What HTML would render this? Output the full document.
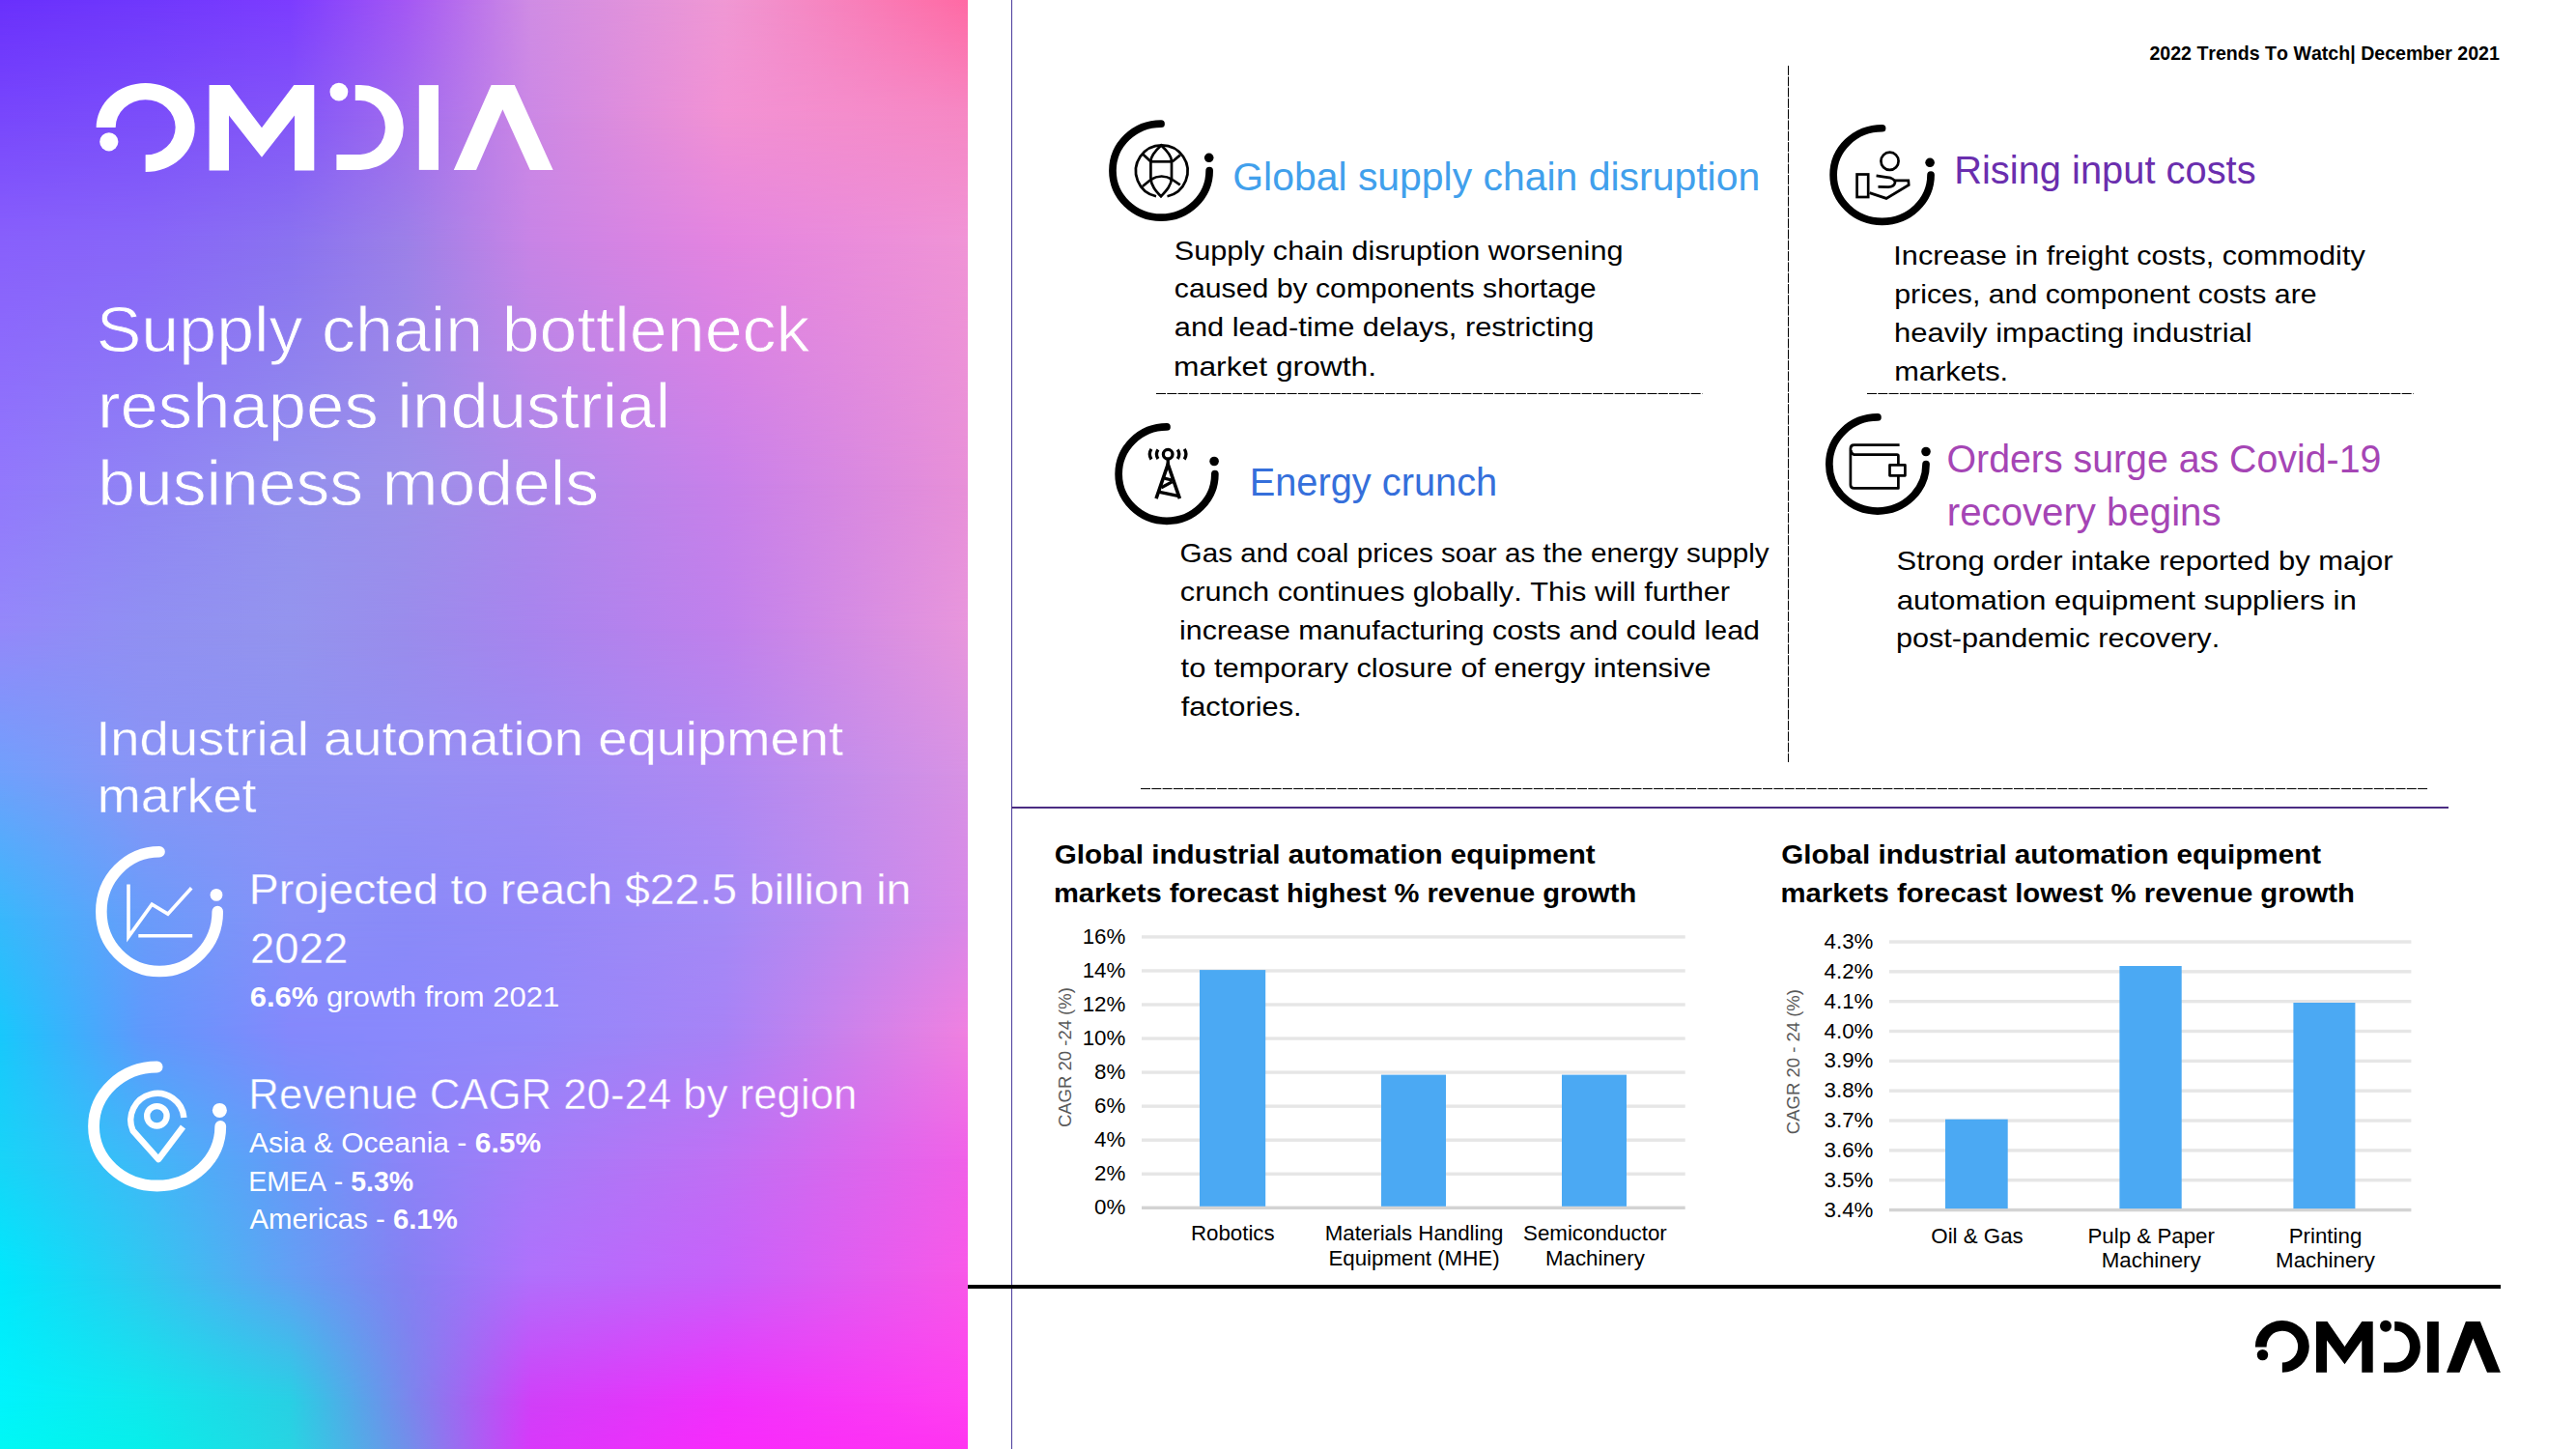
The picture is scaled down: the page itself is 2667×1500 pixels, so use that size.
<!DOCTYPE html>
<html><head><meta charset="utf-8"><title>Omdia 2022 Trends</title><style>
html,body{margin:0;padding:0;background:#fff;}
body{width:2667px;height:1500px;overflow:hidden;position:relative;font-family:"Liberation Sans", sans-serif;}
#bg{position:absolute;left:0;top:0;width:1002px;height:1500px;overflow:hidden;}
.band{position:absolute;left:0;width:1002px;}
.ov{position:absolute;left:0;top:0;right:0;bottom:0;-webkit-mask-image:linear-gradient(to bottom,transparent,#000);mask-image:linear-gradient(to bottom,transparent,#000);}
svg{position:absolute;left:0;top:0;}
svg text{font-family:"Liberation Sans", sans-serif;font-kerning:none;}
</style></head>
<body>
<div id="bg">
<div class="band" style="top:0px;height:120px;background:linear-gradient(to right, #6a30fc 0.000%, #7038fc 14.970%, #7c3cff 29.940%, #a458f4 41.916%, #d08ce4 54.890%, #f098d4 74.850%, #ff6aa4 100.000%)"><div class="ov" style="background:linear-gradient(to right, #7847fc 0.000%, #7b4efa 14.970%, #8356f8 29.940%, #a06bee 41.916%, #cc88e5 54.890%, #f292d4 74.850%, #f688c4 100.000%)"></div></div>
<div class="band" style="top:120px;height:130px;background:linear-gradient(to right, #7847fc 0.000%, #7b4efa 14.970%, #8356f8 29.940%, #a06bee 41.916%, #cc88e5 54.890%, #f292d4 74.850%, #f688c4 100.000%)"><div class="ov" style="background:linear-gradient(to right, #8860fc 0.000%, #8866f8 14.970%, #8a72f0 29.940%, #9c80e8 41.916%, #c884e6 54.890%, #e484e0 74.850%, #f094d6 100.000%)"></div></div>
<div class="band" style="top:250px;height:250px;background:linear-gradient(to right, #8860fc 0.000%, #8866f8 14.970%, #8a72f0 29.940%, #9c80e8 41.916%, #c884e6 54.890%, #e484e0 74.850%, #f094d6 100.000%)"><div class="ov" style="background:linear-gradient(to right, #9278fc 0.000%, #9084f4 14.970%, #9490ee 29.940%, #9c90ea 41.916%, #ac88ea 54.890%, #c880ea 74.850%, #e890d8 100.000%)"></div></div>
<div class="band" style="top:500px;height:150px;background:linear-gradient(to right, #9278fc 0.000%, #9084f4 14.970%, #9490ee 29.940%, #9c90ea 41.916%, #ac88ea 54.890%, #c880ea 74.850%, #e890d8 100.000%)"><div class="ov" style="background:linear-gradient(to right, #9488fa 0.000%, #9090f2 14.970%, #9494ee 29.940%, #9a8cec 41.916%, #a884ee 54.890%, #c080ec 74.850%, #e896dc 100.000%)"></div></div>
<div class="band" style="top:650px;height:150px;background:linear-gradient(to right, #9488fa 0.000%, #9090f2 14.970%, #9494ee 29.940%, #9a8cec 41.916%, #a884ee 54.890%, #c080ec 74.850%, #e896dc 100.000%)"><div class="ov" style="background:linear-gradient(to right, #70a0fc 0.000%, #8a94f6 14.970%, #8e92f4 29.940%, #9490f4 41.916%, #9c8cf4 54.890%, #b088f2 74.850%, #d892e4 100.000%)"></div></div>
<div class="band" style="top:800px;height:150px;background:linear-gradient(to right, #70a0fc 0.000%, #8a94f6 14.970%, #8e92f4 29.940%, #9490f4 41.916%, #9c8cf4 54.890%, #b088f2 74.850%, #d892e4 100.000%)"><div class="ov" style="background:linear-gradient(to right, #38b8fc 0.000%, #6a9cfa 14.970%, #8890f8 29.940%, #8a8af8 41.916%, #9488f8 54.890%, #a48af6 74.850%, #d888e8 100.000%)"></div></div>
<div class="band" style="top:950px;height:120px;background:linear-gradient(to right, #38b8fc 0.000%, #6a9cfa 14.970%, #8890f8 29.940%, #8a8af8 41.916%, #9488f8 54.890%, #a48af6 74.850%, #d888e8 100.000%)"><div class="ov" style="background:linear-gradient(to right, #18c8fc 0.000%, #6098fc 14.970%, #8488fc 29.940%, #8a88fc 41.916%, #9288fa 54.890%, #a882f6 74.850%, #f080e0 100.000%)"></div></div>
<div class="band" style="top:1070px;height:130px;background:linear-gradient(to right, #18c8fc 0.000%, #6098fc 14.970%, #8488fc 29.940%, #8a88fc 41.916%, #9288fa 54.890%, #a882f6 74.850%, #f080e0 100.000%)"><div class="ov" style="background:linear-gradient(to right, #18d4f8 0.000%, #40b8f8 14.970%, #6898f8 29.940%, #8c84f8 41.916%, #a47cf8 54.890%, #c070f4 74.850%, #f060e8 100.000%)"></div></div>
<div class="band" style="top:1200px;height:120px;background:linear-gradient(to right, #18d4f8 0.000%, #40b8f8 14.970%, #6898f8 29.940%, #8c84f8 41.916%, #a47cf8 54.890%, #c070f4 74.850%, #f060e8 100.000%)"><div class="ov" style="background:linear-gradient(to right, #00e8fc 0.000%, #30c8f0 14.970%, #62a0f4 29.940%, #8480f2 41.916%, #b070fc 54.890%, #c860fa 74.850%, #f858e8 100.000%)"></div></div>
<div class="band" style="top:1320px;height:130px;background:linear-gradient(to right, #00e8fc 0.000%, #30c8f0 14.970%, #62a0f4 29.940%, #8480f2 41.916%, #b070fc 54.890%, #c860fa 74.850%, #f858e8 100.000%)"><div class="ov" style="background:linear-gradient(to right, #00f4fc 0.000%, #10e8ec 14.970%, #28d0e4 29.940%, #7888ec 41.916%, #d040f8 54.890%, #f030fc 74.850%, #ff40f0 100.000%)"></div></div>
<div class="band" style="top:1450px;height:50px;background:linear-gradient(to right, #00f4fc 0.000%, #10e8ec 14.970%, #28d0e4 29.940%, #7888ec 41.916%, #d040f8 54.890%, #f030fc 74.850%, #ff40f0 100.000%)"><div class="ov" style="background:linear-gradient(to right, #00f8f4 0.000%, #08eeea 14.970%, #28d4e2 29.940%, #7090ea 41.916%, #d838fa 54.890%, #f82afc 74.850%, #ff34f0 100.000%)"></div></div>
</div>
<svg width="2667" height="1500" viewBox="0 0 2667 1500">
<defs><linearGradient id="g0" gradientUnits="userSpaceOnUse" x1="97.9" y1="0" x2="843.6" y2="0"><stop offset="0.0000" stop-color="#8b6ef8"/><stop offset="0.0556" stop-color="#8b71f7"/><stop offset="0.1111" stop-color="#8c74f5"/><stop offset="0.1667" stop-color="#8c77f3"/><stop offset="0.2222" stop-color="#8d7af1"/><stop offset="0.2778" stop-color="#8e7eef"/><stop offset="0.3333" stop-color="#9381ed"/><stop offset="0.3889" stop-color="#9884ea"/><stop offset="0.4444" stop-color="#9e86e9"/><stop offset="0.5000" stop-color="#a986e8"/><stop offset="0.5556" stop-color="#b486e8"/><stop offset="0.6111" stop-color="#be85e7"/><stop offset="0.6667" stop-color="#c485e7"/><stop offset="0.7222" stop-color="#ca84e6"/><stop offset="0.7778" stop-color="#cf84e5"/><stop offset="0.8333" stop-color="#d583e4"/><stop offset="0.8889" stop-color="#da83e3"/><stop offset="0.9444" stop-color="#de86e1"/><stop offset="1.0000" stop-color="#e188df"/></linearGradient><linearGradient id="g1" gradientUnits="userSpaceOnUse" x1="100.7" y1="0" x2="694.5" y2="0"><stop offset="0.0000" stop-color="#8e77f7"/><stop offset="0.0714" stop-color="#8e7af6"/><stop offset="0.1429" stop-color="#8e7ef4"/><stop offset="0.2143" stop-color="#8f81f2"/><stop offset="0.2857" stop-color="#9084f0"/><stop offset="0.3571" stop-color="#9287ee"/><stop offset="0.4286" stop-color="#9689ec"/><stop offset="0.5000" stop-color="#9a8aea"/><stop offset="0.5714" stop-color="#a08ae9"/><stop offset="0.6429" stop-color="#a889e9"/><stop offset="0.7143" stop-color="#b088e9"/><stop offset="0.7857" stop-color="#b786e9"/><stop offset="0.8571" stop-color="#bd85e8"/><stop offset="0.9286" stop-color="#c384e8"/><stop offset="1.0000" stop-color="#c983e7"/></linearGradient><linearGradient id="g2" gradientUnits="userSpaceOnUse" x1="100.7" y1="0" x2="622.5" y2="0"><stop offset="0.0000" stop-color="#9180f7"/><stop offset="0.0769" stop-color="#9083f4"/><stop offset="0.1538" stop-color="#9187f3"/><stop offset="0.2308" stop-color="#928af1"/><stop offset="0.3077" stop-color="#938df0"/><stop offset="0.3846" stop-color="#9490ee"/><stop offset="0.4615" stop-color="#9790ed"/><stop offset="0.5385" stop-color="#9990eb"/><stop offset="0.6154" stop-color="#9c90ea"/><stop offset="0.6923" stop-color="#a18dea"/><stop offset="0.7692" stop-color="#a68bea"/><stop offset="0.8462" stop-color="#ab88ea"/><stop offset="0.9231" stop-color="#b087ea"/><stop offset="1.0000" stop-color="#b685ea"/></linearGradient><linearGradient id="g3" gradientUnits="userSpaceOnUse" x1="99.3" y1="0" x2="877.7" y2="0"><stop offset="0.0000" stop-color="#8596f7"/><stop offset="0.0526" stop-color="#8a94f6"/><stop offset="0.1053" stop-color="#8c93f5"/><stop offset="0.1579" stop-color="#8d93f4"/><stop offset="0.2105" stop-color="#8e93f3"/><stop offset="0.2632" stop-color="#9092f3"/><stop offset="0.3158" stop-color="#9291f3"/><stop offset="0.3684" stop-color="#9490f2"/><stop offset="0.4211" stop-color="#968ff2"/><stop offset="0.4737" stop-color="#998df2"/><stop offset="0.5263" stop-color="#9c8cf3"/><stop offset="0.5789" stop-color="#9f8af3"/><stop offset="0.6316" stop-color="#a389f2"/><stop offset="0.6842" stop-color="#a789f2"/><stop offset="0.7368" stop-color="#ab88f1"/><stop offset="0.7895" stop-color="#b087f1"/><stop offset="0.8421" stop-color="#b486f0"/><stop offset="0.8947" stop-color="#bb89ee"/><stop offset="0.9474" stop-color="#c18bec"/><stop offset="1.0000" stop-color="#c88de9"/></linearGradient><linearGradient id="g4" gradientUnits="userSpaceOnUse" x1="99.3" y1="0" x2="270.1" y2="0"><stop offset="0.0000" stop-color="#7a9af8"/><stop offset="0.2500" stop-color="#8396f7"/><stop offset="0.5000" stop-color="#8695f6"/><stop offset="0.7500" stop-color="#8993f6"/><stop offset="1.0000" stop-color="#8b92f5"/></linearGradient><linearGradient id="g5" gradientUnits="userSpaceOnUse" x1="256.6" y1="0" x2="945.4" y2="0"><stop offset="0.0000" stop-color="#8293f8"/><stop offset="0.0588" stop-color="#8991f7"/><stop offset="0.1176" stop-color="#8a8ff7"/><stop offset="0.1765" stop-color="#8b8df7"/><stop offset="0.2353" stop-color="#8c8bf7"/><stop offset="0.2941" stop-color="#8f8af7"/><stop offset="0.3529" stop-color="#928af7"/><stop offset="0.4118" stop-color="#9589f7"/><stop offset="0.4706" stop-color="#9889f7"/><stop offset="0.5294" stop-color="#9b89f7"/><stop offset="0.5882" stop-color="#9f89f6"/><stop offset="0.6471" stop-color="#a289f6"/><stop offset="0.7059" stop-color="#a68af5"/><stop offset="0.7647" stop-color="#ad8af3"/><stop offset="0.8235" stop-color="#b58af1"/><stop offset="0.8824" stop-color="#bd8aef"/><stop offset="0.9412" stop-color="#c58aed"/><stop offset="1.0000" stop-color="#cd8aea"/></linearGradient><linearGradient id="g6" gradientUnits="userSpaceOnUse" x1="256.4" y1="0" x2="362.9" y2="0"><stop offset="0.0000" stop-color="#7e92fa"/><stop offset="0.5000" stop-color="#878df9"/><stop offset="1.0000" stop-color="#898bf9"/></linearGradient><linearGradient id="g7" gradientUnits="userSpaceOnUse" x1="255.9" y1="0" x2="889.5" y2="0"><stop offset="0.0000" stop-color="#6b97fa"/><stop offset="0.0667" stop-color="#7690fa"/><stop offset="0.1333" stop-color="#7d8dfa"/><stop offset="0.2000" stop-color="#8489fa"/><stop offset="0.2667" stop-color="#8c86fa"/><stop offset="0.3333" stop-color="#9185fa"/><stop offset="0.4000" stop-color="#9683f9"/><stop offset="0.4667" stop-color="#9b82f9"/><stop offset="0.5333" stop-color="#a080f8"/><stop offset="0.6000" stop-color="#a67ef7"/><stop offset="0.6667" stop-color="#ab7cf6"/><stop offset="0.7333" stop-color="#b07af6"/><stop offset="0.8000" stop-color="#b779f4"/><stop offset="0.8667" stop-color="#c177f1"/><stop offset="0.9333" stop-color="#cb76ee"/><stop offset="1.0000" stop-color="#d574ec"/></linearGradient></defs>
<g fill="#fff">
<path d="M 99.65 132 A 51 46 0 1 1 150.65 178 L 150.65 160.35 A 31 28.6 0 1 0 119.65 132 Z"/>
<circle cx="112.8" cy="146.8" r="9.6"/>
<path d="M216.6 176.4 L216.6 88.1 L237.8 88.1 L271 132.3 L304.3 88.1 L325.3 88.1 L325.3 176.4 L305 176.4 L305 119.6 L271 162.8 L237 119.6 L237 176.4 Z"/>
<circle cx="350.9" cy="95.1" r="9.4"/>
<path d="M 367.8 88.1 L 373 88.1 A 44.8 43.9 0 0 1 373 175.9 L 348.4 175.9 L 348.4 159.9 L 373 159.9 A 25.9 27.9 0 0 0 373 104.1 L 367.8 104.1 Z"/>
<rect x="433.8" y="88.1" width="20.2" height="87.8"/>
<path d="M469.8 175.9 L508.6 88.1 L532.8 88.1 L572.6 175.9 L548.8 175.9 L520.4 113.3 L493 175.9 Z"/>
</g>
<text x="99.72" y="363.60" font-size="67.20" fill="#ffffff" textLength="738.77" lengthAdjust="spacingAndGlyphs" stroke="url(#g0)" stroke-width="0.90">Supply chain bottleneck</text>
<text x="101.01" y="442.50" font-size="67.20" fill="#ffffff" textLength="593.22" lengthAdjust="spacingAndGlyphs" stroke="url(#g1)" stroke-width="0.90">reshapes industrial</text>
<text x="101.21" y="522.80" font-size="67.20" fill="#ffffff" textLength="518.81" lengthAdjust="spacingAndGlyphs" stroke="url(#g2)" stroke-width="0.90">business models</text>
<text x="99.28" y="781.80" font-size="49.90" fill="#ffffff" textLength="773.82" lengthAdjust="spacingAndGlyphs" stroke="url(#g3)" stroke-width="0.40">Industrial automation equipment</text>
<text x="100.72" y="841.40" font-size="49.90" fill="#ffffff" textLength="164.78" lengthAdjust="spacingAndGlyphs" stroke="url(#g4)" stroke-width="0.40">market</text>
<text x="257.80" y="936.40" font-size="44.00" fill="#ffffff" textLength="685.61" lengthAdjust="spacingAndGlyphs" stroke="url(#g5)" stroke-width="0.30">Projected to reach $22.5 billion in</text>
<text x="259.12" y="997.00" font-size="44.00" fill="#ffffff" textLength="101.07" lengthAdjust="spacingAndGlyphs" stroke="url(#g6)" stroke-width="0.30">2022</text>
<text x="258.66" y="1041.60" font-size="29.00" fill="#ffffff" textLength="320.65" lengthAdjust="spacingAndGlyphs"><tspan font-weight="bold">6.6%</tspan> growth from 2021</text>
<text x="257.31" y="1147.80" font-size="44.50" fill="#ffffff" textLength="630.03" lengthAdjust="spacingAndGlyphs" stroke="url(#g7)" stroke-width="0.50">Revenue CAGR 20-24 by region</text>
<text x="258.04" y="1192.60" font-size="28.70" fill="#ffffff" textLength="302.13" lengthAdjust="spacingAndGlyphs">Asia &amp; Oceania -  <tspan font-weight="bold">6.5%</tspan></text>
<text x="257.16" y="1232.50" font-size="28.70" fill="#ffffff" textLength="170.99" lengthAdjust="spacingAndGlyphs">EMEA - <tspan font-weight="bold">5.3%</tspan></text>
<text x="258.54" y="1272.00" font-size="28.70" fill="#ffffff" textLength="215.23" lengthAdjust="spacingAndGlyphs">Americas - <tspan font-weight="bold">6.1%</tspan></text>
<path d="M 165.05 881.75 A 60.20 61.90 0 1 0 225.25 943.65" fill="none" stroke="#fff" stroke-width="11.60" stroke-linecap="round"/><circle cx="224.00" cy="926.40" r="6.40" fill="#fff"/>
<g fill="none" stroke="#fff" stroke-width="3.6" stroke-linejoin="miter"><polyline points="133,915.5 133,969.9 157.3,936.2 173.8,946.1 198.2,919.2"/><line x1="143.3" y1="968.8" x2="199.2" y2="968.8"/></g>
<path d="M 162.65 1104.50 A 65.60 61.50 0 1 0 228.25 1166.00" fill="none" stroke="#fff" stroke-width="11.80" stroke-linecap="round"/><circle cx="227.40" cy="1149.40" r="7.50" fill="#fff"/>
<g fill="none" stroke="#fff" stroke-width="6.4" stroke-linejoin="round"><path d="M 190.4 1157 A 27.6 27.6 0 1 0 137.6 1170.5 L 164 1200.2 L 189.5 1166.5"/><circle cx="162.4" cy="1155.3" r="10.2"/></g>
<rect x="1047" y="0" width="1" height="1500" fill="#4b3c9c"/>
<rect x="1047" y="835" width="1488" height="2" fill="#4b2d83"/>
<rect x="1002" y="1330" width="1587" height="4" fill="#000"/>
<line x1="1181" y1="816.5" x2="2514.3" y2="816.5" stroke="#000" stroke-width="1" stroke-dasharray="10 1.3" fill="none"/>
<line x1="1197" y1="407.5" x2="1762.4" y2="407.5" stroke="#000" stroke-width="1" stroke-dasharray="10 1.3" fill="none"/>
<line x1="1933" y1="407.5" x2="2498.6" y2="407.5" stroke="#000" stroke-width="1" stroke-dasharray="10 1.3" fill="none"/>
<line x1="1851.5" y1="68" x2="1851.5" y2="789" stroke="#000" stroke-width="1" stroke-dasharray="10 1.3" fill="none"/>
<text x="2225.42" y="61.80" font-size="19.80" fill="#000000" font-weight="bold" textLength="362.42" lengthAdjust="spacingAndGlyphs">2022 Trends To Watch| December 2021</text>
<text x="1276.24" y="197.20" font-size="41.30" fill="#41a0ec" textLength="545.92" lengthAdjust="spacingAndGlyphs">Global supply chain disruption</text>
<text x="2023.23" y="190.40" font-size="41.30" fill="#6a2eae" textLength="312.41" lengthAdjust="spacingAndGlyphs">Rising input costs</text>
<text x="1293.64" y="512.80" font-size="41.30" fill="#356fdb" textLength="256.55" lengthAdjust="spacingAndGlyphs">Energy crunch</text>
<text x="2015.54" y="488.90" font-size="41.30" fill="#a545b5" textLength="449.82" lengthAdjust="spacingAndGlyphs">Orders surge as Covid-19</text>
<text x="2015.83" y="543.50" font-size="41.30" fill="#a545b5" textLength="283.72" lengthAdjust="spacingAndGlyphs">recovery begins</text>
<text x="1215.71" y="268.70" font-size="28.50" fill="#000000" textLength="464.76" lengthAdjust="spacingAndGlyphs">Supply chain disruption worsening</text>
<text x="1215.82" y="308.30" font-size="28.50" fill="#000000" textLength="436.83" lengthAdjust="spacingAndGlyphs">caused by components shortage</text>
<text x="1215.79" y="347.90" font-size="28.50" fill="#000000" textLength="434.59" lengthAdjust="spacingAndGlyphs">and lead-time delays, restricting</text>
<text x="1214.99" y="388.60" font-size="28.50" fill="#000000" textLength="210.11" lengthAdjust="spacingAndGlyphs">market growth.</text>
<text x="1960.37" y="274.30" font-size="28.50" fill="#000000" textLength="488.39" lengthAdjust="spacingAndGlyphs">Increase in freight costs, commodity</text>
<text x="1961.25" y="314.10" font-size="28.50" fill="#000000" textLength="437.29" lengthAdjust="spacingAndGlyphs">prices, and component costs are</text>
<text x="1961.05" y="354.00" font-size="28.50" fill="#000000" textLength="370.63" lengthAdjust="spacingAndGlyphs">heavily impacting industrial</text>
<text x="1961.16" y="394.40" font-size="28.50" fill="#000000" textLength="117.95" lengthAdjust="spacingAndGlyphs">markets.</text>
<text x="1221.61" y="582.00" font-size="28.50" fill="#000000" textLength="610.05" lengthAdjust="spacingAndGlyphs">Gas and coal prices soar as the energy supply</text>
<text x="1221.79" y="621.70" font-size="28.50" fill="#000000" textLength="569.32" lengthAdjust="spacingAndGlyphs">crunch continues globally. This will further</text>
<text x="1221.07" y="661.50" font-size="28.50" fill="#000000" textLength="600.89" lengthAdjust="spacingAndGlyphs">increase manufacturing costs and could lead</text>
<text x="1222.63" y="701.20" font-size="28.50" fill="#000000" textLength="548.84" lengthAdjust="spacingAndGlyphs">to temporary closure of energy intensive</text>
<text x="1222.66" y="740.90" font-size="28.50" fill="#000000" textLength="124.95" lengthAdjust="spacingAndGlyphs">factories.</text>
<text x="1963.60" y="590.00" font-size="28.50" fill="#000000" textLength="513.92" lengthAdjust="spacingAndGlyphs">Strong order intake reported by major</text>
<text x="1963.67" y="630.70" font-size="28.50" fill="#000000" textLength="476.16" lengthAdjust="spacingAndGlyphs">automation equipment suppliers in</text>
<text x="1963.03" y="669.80" font-size="28.50" fill="#000000" textLength="335.17" lengthAdjust="spacingAndGlyphs">post-pandemic recovery.</text>
<text x="1091.68" y="894.00" font-size="27.50" fill="#000000" font-weight="bold" textLength="560.08" lengthAdjust="spacingAndGlyphs">Global industrial automation equipment</text>
<text x="1090.98" y="934.00" font-size="27.50" fill="#000000" font-weight="bold" textLength="603.22" lengthAdjust="spacingAndGlyphs">markets forecast highest % revenue growth</text>
<text x="1844.19" y="894.00" font-size="27.50" fill="#000000" font-weight="bold" textLength="558.87" lengthAdjust="spacingAndGlyphs">Global industrial automation equipment</text>
<text x="1843.47" y="934.00" font-size="27.50" fill="#000000" font-weight="bold" textLength="594.55" lengthAdjust="spacingAndGlyphs">markets forecast lowest % revenue growth</text>
<path d="M 1202.05 128.15 A 50.10 48.50 0 1 0 1252.15 176.65" fill="none" stroke="#000" stroke-width="7.70" stroke-linecap="round"/><circle cx="1251.70" cy="163.30" r="4.80" fill="#000"/>
<g fill="none" stroke="#000" stroke-width="2.7"><path d="M 1197 203.3 A 26.8 26.8 0 1 1 1208.5 203.3"/><path d="M 1202.2 150.4 C 1196 156 1191.4 161 1191.4 167 L 1191.4 184 C 1191.4 192 1197 198 1202 203.3 C 1207 198 1213 192 1213 184 L 1213 167 C 1213 161 1208.4 156 1202.2 150.4 Z"/><line x1="1191.2" y1="167.3" x2="1214" y2="167.3"/><path d="M 1191.2 186 Q 1202.6 179 1214 186"/><line x1="1183.4" y1="159.8" x2="1191.4" y2="167.3"/><line x1="1221.8" y1="160.6" x2="1213.8" y2="167.3"/><line x1="1182.8" y1="193" x2="1191.4" y2="186"/><line x1="1221.8" y1="191.4" x2="1213.8" y2="186"/></g>
<path d="M 1948.60 132.75 A 50.45 48.30 0 1 0 1999.05 181.05" fill="none" stroke="#000" stroke-width="7.70" stroke-linecap="round"/><circle cx="1998.10" cy="168.30" r="4.80" fill="#000"/>
<g fill="none" stroke="#000" stroke-width="2.7" stroke-linejoin="miter"><circle cx="1956.5" cy="166.8" r="9.1"/><rect x="1922.6" y="180.5" width="11.6" height="23.5"/><path d="M 1935.6 199.6 L 1953 205.4 L 1976.2 191.5 L 1975.8 186.9 L 1961.9 186.9"/><path d="M 1942.6 181.8 Q 1951 183 1957.5 184.2 Q 1962 186 1962 189 Q 1961 193.5 1955 193.6 L 1944.5 193.4"/></g>
<path d="M 1208.00 441.95 A 49.85 48.70 0 1 0 1257.85 490.65" fill="none" stroke="#000" stroke-width="7.70" stroke-linecap="round"/><circle cx="1257.10" cy="477.50" r="4.80" fill="#000"/>
<g fill="none" stroke="#000" stroke-width="3.3" stroke-linejoin="miter"><circle cx="1209.2" cy="470.2" r="4.8"/><line x1="1209.2" y1="475" x2="1209.2" y2="481"/><polyline points="1197,516.2 1209.2,480.6 1221.4,516.2" stroke-width="3.6"/><line x1="1205.6" y1="495.2" x2="1213.2" y2="497.0"/><line x1="1213.8" y1="498.6" x2="1202.4" y2="504.8"/><line x1="1200.4" y1="509.3" x2="1219.6" y2="513.3"/><path d="M 1192 464.8 Q 1188.5 470 1192 475.5"/><path d="M 1199 465.5 Q 1195.8 470 1199 475"/><path d="M 1219.2 465.5 Q 1222.4 470 1219.2 475"/><path d="M 1226.2 464.8 Q 1229.7 470 1226.2 475.5"/></g>
<path d="M 1943.95 431.95 A 50.10 48.55 0 1 0 1994.05 480.50" fill="none" stroke="#000" stroke-width="7.70" stroke-linecap="round"/><circle cx="1994.00" cy="467.50" r="4.80" fill="#000"/>
<g fill="none" stroke="#000" stroke-width="2.7" stroke-linejoin="round"><path d="M 1966.6 460.6 L 1919.5 460.6 Q 1915.9 460.6 1915.9 464.5 L 1915.9 502 Q 1915.9 505.4 1919.5 505.4 L 1965.4 505.4 L 1965.4 492.3"/><path d="M 1965.4 481.4 L 1965.4 472 Q 1965.4 470.6 1964 470.6 L 1919.5 470.6 Q 1916.5 470 1916.2 466"/><rect x="1956.5" y="481.4" width="15.9" height="10.9"/></g>
<rect x="1182" y="968.20" width="562.7" height="3.4" fill="#e6e6e6"/>
<text x="1165.3" y="976.90" font-size="22.3" text-anchor="end" fill="#000">16%</text>
<rect x="1182" y="1003.25" width="562.7" height="3.4" fill="#e6e6e6"/>
<text x="1165.3" y="1011.95" font-size="22.3" text-anchor="end" fill="#000">14%</text>
<rect x="1182" y="1038.30" width="562.7" height="3.4" fill="#e6e6e6"/>
<text x="1165.3" y="1047.00" font-size="22.3" text-anchor="end" fill="#000">12%</text>
<rect x="1182" y="1073.35" width="562.7" height="3.4" fill="#e6e6e6"/>
<text x="1165.3" y="1082.05" font-size="22.3" text-anchor="end" fill="#000">10%</text>
<rect x="1182" y="1108.40" width="562.7" height="3.4" fill="#e6e6e6"/>
<text x="1165.3" y="1117.10" font-size="22.3" text-anchor="end" fill="#000">8%</text>
<rect x="1182" y="1143.45" width="562.7" height="3.4" fill="#e6e6e6"/>
<text x="1165.3" y="1152.15" font-size="22.3" text-anchor="end" fill="#000">6%</text>
<rect x="1182" y="1178.50" width="562.7" height="3.4" fill="#e6e6e6"/>
<text x="1165.3" y="1187.20" font-size="22.3" text-anchor="end" fill="#000">4%</text>
<rect x="1182" y="1213.55" width="562.7" height="3.4" fill="#e6e6e6"/>
<text x="1165.3" y="1222.25" font-size="22.3" text-anchor="end" fill="#000">2%</text>
<rect x="1182" y="1248.60" width="562.7" height="3.4" fill="#d3d3d3"/>
<text x="1165.3" y="1257.30" font-size="22.3" text-anchor="end" fill="#000">0%</text>
<rect x="1242.0" y="1004.1" width="68.2" height="244.7" fill="#4ba9f3"/>
<rect x="1430.0" y="1112.6" width="67.0" height="136.2" fill="#4ba9f3"/>
<rect x="1617.0" y="1112.6" width="67.0" height="136.2" fill="#4ba9f3"/>
<text x="1276.3" y="1283.8" font-size="22.3" text-anchor="middle" fill="#000">Robotics</text>
<text x="1464.0" y="1283.8" font-size="22.3" text-anchor="middle" fill="#000">Materials Handling</text>
<text x="1464.0" y="1309.7" font-size="22.3" text-anchor="middle" fill="#000">Equipment (MHE)</text>
<text x="1651.4" y="1283.8" font-size="22.3" text-anchor="middle" fill="#000">Semiconductor</text>
<text x="1651.4" y="1309.7" font-size="22.3" text-anchor="middle" fill="#000">Machinery</text>
<text transform="translate(1108.62 1094.6) rotate(-90)" font-size="18.5" text-anchor="middle" fill="#595959">CAGR 20 -24 (%)</text>
<rect x="1955.9" y="973.30" width="540.5" height="3.4" fill="#e6e6e6"/>
<text x="1939.4" y="982.00" font-size="22.3" text-anchor="end" fill="#000">4.3%</text>
<rect x="1955.9" y="1004.14" width="540.5" height="3.4" fill="#e6e6e6"/>
<text x="1939.4" y="1012.84" font-size="22.3" text-anchor="end" fill="#000">4.2%</text>
<rect x="1955.9" y="1034.98" width="540.5" height="3.4" fill="#e6e6e6"/>
<text x="1939.4" y="1043.68" font-size="22.3" text-anchor="end" fill="#000">4.1%</text>
<rect x="1955.9" y="1065.82" width="540.5" height="3.4" fill="#e6e6e6"/>
<text x="1939.4" y="1074.52" font-size="22.3" text-anchor="end" fill="#000">4.0%</text>
<rect x="1955.9" y="1096.66" width="540.5" height="3.4" fill="#e6e6e6"/>
<text x="1939.4" y="1105.36" font-size="22.3" text-anchor="end" fill="#000">3.9%</text>
<rect x="1955.9" y="1127.50" width="540.5" height="3.4" fill="#e6e6e6"/>
<text x="1939.4" y="1136.20" font-size="22.3" text-anchor="end" fill="#000">3.8%</text>
<rect x="1955.9" y="1158.34" width="540.5" height="3.4" fill="#e6e6e6"/>
<text x="1939.4" y="1167.04" font-size="22.3" text-anchor="end" fill="#000">3.7%</text>
<rect x="1955.9" y="1189.18" width="540.5" height="3.4" fill="#e6e6e6"/>
<text x="1939.4" y="1197.88" font-size="22.3" text-anchor="end" fill="#000">3.6%</text>
<rect x="1955.9" y="1220.02" width="540.5" height="3.4" fill="#e6e6e6"/>
<text x="1939.4" y="1228.72" font-size="22.3" text-anchor="end" fill="#000">3.5%</text>
<rect x="1955.9" y="1250.86" width="540.5" height="3.4" fill="#d3d3d3"/>
<text x="1939.4" y="1259.56" font-size="22.3" text-anchor="end" fill="#000">3.4%</text>
<rect x="2014.0" y="1158.7" width="64.7" height="92.4" fill="#4ba9f3"/>
<rect x="2194.4" y="1000.0" width="64.3" height="251.1" fill="#4ba9f3"/>
<rect x="2374.4" y="1038.0" width="64.0" height="213.1" fill="#4ba9f3"/>
<text x="2047.0" y="1286.8" font-size="22.3" text-anchor="middle" fill="#000">Oil &amp; Gas</text>
<text x="2227.2" y="1286.8" font-size="22.3" text-anchor="middle" fill="#000">Pulp &amp; Paper</text>
<text x="2227.2" y="1312.1" font-size="22.3" text-anchor="middle" fill="#000">Machinery</text>
<text x="2407.5" y="1286.8" font-size="22.3" text-anchor="middle" fill="#000">Printing</text>
<text x="2407.5" y="1312.1" font-size="22.3" text-anchor="middle" fill="#000">Machinery</text>
<text transform="translate(1862.62 1099.1) rotate(-90)" font-size="18.5" text-anchor="middle" fill="#595959">CAGR 20 - 24 (%)</text>
<g fill="#000">
<path d="M 2334.9 1394.5 A 27.95 26.9 0 1 1 2362.85 1420.8 L 2362.85 1410.4 A 16.25 16.35 0 1 0 2346.6 1394.5 Z"/>
<circle cx="2342.5" cy="1402.6" r="5.7"/>
<path d="M2398 1420.8 L2398 1368.1 L2409.5 1368.1 L2427.5 1394 L2445.3 1368.1 L2456.7 1368.1 L2456.7 1420.8 L2445.3 1420.8 L2445.3 1387.6 L2427.5 1412.3 L2409 1387.6 L2409 1420.8 Z"/>
<circle cx="2470" cy="1372.7" r="6"/>
<path d="M 2479.2 1368.1 L 2481 1368.1 A 24.9 26.35 0 0 1 2481 1420.8 L 2468.1 1420.8 L 2468.1 1410.4 L 2481 1410.4 A 13.9 16.35 0 0 0 2481 1377.7 L 2479.2 1377.7 Z"/>
<rect x="2513" y="1368.1" width="11.8" height="52.7"/>
<path d="M2532.9 1420.8 L2552.9 1368.1 L2567.8 1368.1 L2588.9 1420.8 L2575 1420.8 L2560.4 1385.5 L2546.5 1420.8 Z"/>
</g>
</svg>
</body></html>
